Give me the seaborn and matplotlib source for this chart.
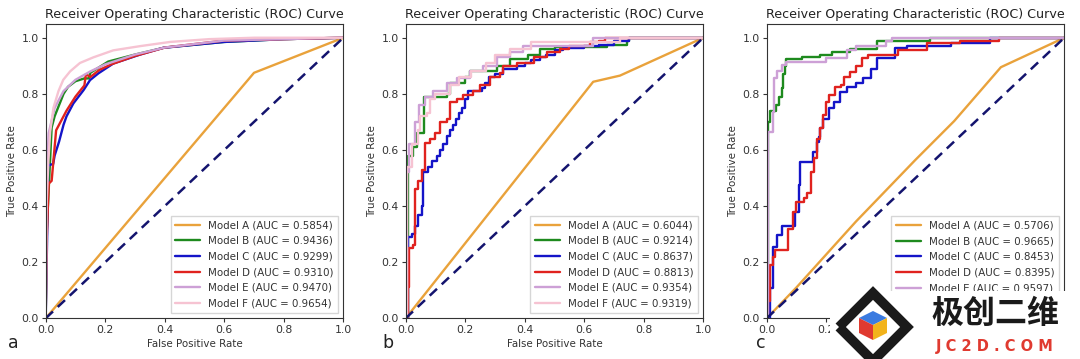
import matplotlib
matplotlib.use("Agg")
import matplotlib.pyplot as plt
import seaborn as sns
import numpy as np
from matplotlib.patches import Rectangle, Polygon

sns.set_style("ticks")
plt.rcParams['font.family'] = ['DejaVu Sans', 'Noto Sans CJK SC']

models = ["Model A", "Model B", "Model C", "Model D", "Model E", "Model F"]
colors = ["#E9A23B", "#1E8A1E", "#1414C8", "#E0221E", "#CDA0D6", "#F6C3D2"]
ticks = [0.0, 0.2, 0.4, 0.6, 0.8, 1.0]
tick_labels = ["0.0", "0.2", "0.4", "0.6", "0.8", "1.0"]

# ---- panel a ----
a_fpr = [
    [0, 0.70, 1],
    [0, 0.003, 0.02, 0.03, 0.045, 0.06, 0.075, 0.1, 0.13, 0.145, 0.15, 0.18, 0.21, 0.3, 0.4, 0.6, 0.8, 1],
    [0, 0.005, 0.008, 0.025, 0.03, 0.045, 0.06, 0.07, 0.093, 0.127, 0.149, 0.177, 0.227, 0.317, 0.395, 0.5, 0.6, 0.8, 1],
    [0, 0.003, 0.01, 0.02, 0.035, 0.05, 0.07, 0.1, 0.13, 0.135, 0.15, 0.18, 0.22, 0.3, 0.4, 0.6, 0.8, 1],
    [0, 0.003, 0.01, 0.03, 0.06, 0.1, 0.15, 0.2, 0.3, 0.4, 0.6, 1],
    [0, 0.003, 0.009, 0.015, 0.026, 0.043, 0.059, 0.082, 0.115, 0.16, 0.227, 0.317, 0.418, 0.55, 0.7, 1],
]
a_tpr = [
    [0, 0.875, 1],
    [0, 0.3, 0.68, 0.72, 0.76, 0.80, 0.825, 0.845, 0.855, 0.855, 0.875, 0.895, 0.915, 0.94, 0.965, 0.985, 0.995, 1],
    [0, 0.3, 0.545, 0.55, 0.58, 0.63, 0.69, 0.72, 0.766, 0.813, 0.849, 0.873, 0.908, 0.94, 0.964, 0.975, 0.985, 0.995, 1],
    [0, 0.27, 0.48, 0.49, 0.67, 0.70, 0.74, 0.79, 0.83, 0.87, 0.86, 0.885, 0.905, 0.935, 0.965, 0.99, 0.995, 1],
    [0, 0.5, 0.66, 0.75, 0.81, 0.85, 0.88, 0.905, 0.94, 0.965, 0.99, 1],
    [0, 0.4, 0.56, 0.665, 0.75, 0.81, 0.85, 0.88, 0.91, 0.93, 0.955, 0.97, 0.985, 0.995, 1.0, 1],
]
a_auc = ["0.5854", "0.9436", "0.9299", "0.9310", "0.9470", "0.9654"]

# ---- panel b ----
b_fpr = [
    [0, 0.63, 0.72, 1],
    [0, 0.009, 0.026, 0.037, 0.05, 0.06, 0.138, 0.15, 0.2, 0.216, 0.27, 0.306, 0.35, 0.41, 0.45, 0.5, 0.675, 0.742, 0.75, 1],
    [0, 0.007, 0.02, 0.03, 0.043, 0.054, 0.059, 0.075, 0.087, 0.104, 0.115, 0.127, 0.138, 0.15, 0.16, 0.17, 0.18, 0.19, 0.2,
     0.21, 0.255, 0.265, 0.28, 0.3, 0.328, 0.373, 0.40, 0.42, 0.45, 0.47, 0.5, 0.53, 0.6, 0.65, 0.7, 0.75, 1],
    [0, 0.007, 0.01, 0.025, 0.03, 0.04, 0.055, 0.065, 0.082, 0.099, 0.115, 0.138, 0.149, 0.171, 0.194, 0.227, 0.25, 0.283,
     0.317, 0.328, 0.373, 0.43, 0.474, 0.52, 0.55, 0.62, 0.65, 0.67, 1],
    [0, 0.003, 0.01, 0.03, 0.045, 0.065, 0.093, 0.138, 0.171, 0.216, 0.26, 0.306, 0.35, 0.395, 0.63, 1],
    [0, 0.005, 0.02, 0.04, 0.048, 0.07, 0.082, 0.1, 0.15, 0.18, 0.22, 0.27, 0.3, 0.35, 0.42, 0.72, 1],
]
b_tpr = [
    [0, 0.843, 0.865, 1],
    [0, 0.58, 0.61, 0.66, 0.66, 0.79, 0.80, 0.84, 0.86, 0.88, 0.88, 0.90, 0.925, 0.94, 0.96, 0.968, 0.975, 0.99, 1.0, 1],
    [0, 0.29, 0.30, 0.33, 0.368, 0.40, 0.52, 0.54, 0.56, 0.58, 0.60, 0.62, 0.65, 0.67, 0.69, 0.71, 0.73, 0.75, 0.78,
     0.81, 0.82, 0.84, 0.86, 0.87, 0.89, 0.90, 0.91, 0.92, 0.93, 0.94, 0.955, 0.965, 0.97, 0.975, 0.99, 1.0, 1],
    [0, 0.11, 0.25, 0.26, 0.46, 0.49, 0.53, 0.625, 0.64, 0.66, 0.70, 0.71, 0.77, 0.78, 0.795, 0.81, 0.83, 0.86,
     0.875, 0.90, 0.91, 0.93, 0.95, 0.96, 0.97, 0.985, 0.99, 1.0, 1],
    [0, 0.52, 0.62, 0.70, 0.76, 0.79, 0.81, 0.84, 0.855, 0.88, 0.90, 0.93, 0.95, 0.97, 1.0, 1],
    [0, 0.54, 0.62, 0.67, 0.72, 0.73, 0.78, 0.80, 0.83, 0.86, 0.88, 0.91, 0.94, 0.96, 0.985, 1.0, 1],
]
b_auc = ["0.6044", "0.9214", "0.8637", "0.8813", "0.9354", "0.9319"]

# ---- panel c ----
c_fpr = [
    [0, 0.1, 0.3, 0.5, 0.63, 0.787, 1],
    [0, 0.003, 0.006, 0.01, 0.03, 0.04, 0.05, 0.055, 0.06, 0.065, 0.12, 0.18, 0.22, 0.28, 0.37, 0.55, 1],
    [0, 0.01, 0.022, 0.034, 0.051, 0.096, 0.107, 0.112, 0.157, 0.169, 0.175, 0.18, 0.19, 0.21, 0.225, 0.247, 0.27,
     0.3, 0.325, 0.35, 0.37, 0.43, 0.47, 0.62, 0.75, 1],
    [0, 0.006, 0.011, 0.022, 0.028, 0.073, 0.09, 0.1, 0.124, 0.135, 0.15, 0.16, 0.17, 0.18, 0.19, 0.2, 0.21, 0.23,
     0.25, 0.26, 0.28, 0.3, 0.32, 0.34, 0.44, 0.54, 0.65, 0.78, 1],
    [0, 0.003, 0.006, 0.022, 0.025, 0.035, 0.05, 0.065, 0.2, 0.27, 0.3, 0.4, 0.42, 1],
]
c_tpr = [
    [0, 0.11, 0.345, 0.565, 0.703, 0.895, 1],
    [0, 0.65, 0.70, 0.74, 0.76, 0.79, 0.82, 0.87, 0.90, 0.925, 0.93, 0.94, 0.95, 0.96, 0.99, 1.0, 1],
    [0, 0.107, 0.255, 0.297, 0.33, 0.38, 0.475, 0.557, 0.594, 0.63, 0.647, 0.68, 0.71, 0.75, 0.77, 0.807, 0.826,
     0.837, 0.855, 0.89, 0.926, 0.963, 0.97, 0.98, 1.0, 1],
    [0, 0.06, 0.19, 0.22, 0.245, 0.32, 0.38, 0.415, 0.43, 0.445, 0.52, 0.57, 0.64, 0.677, 0.725, 0.772, 0.796, 0.826,
     0.83, 0.86, 0.878, 0.90, 0.926, 0.938, 0.956, 0.98, 0.99, 1.0, 1],
    [0, 0.487, 0.665, 0.736, 0.855, 0.88, 0.903, 0.915, 0.927, 0.955, 0.97, 0.99, 1.0, 1],
]
c_auc = ["0.5706", "0.9665", "0.8453", "0.8395", "0.9597"]

W, H = 1080, 359
fig = plt.figure(figsize=(W / 100, H / 100), dpi=100)

# (fpr, tpr, auc, letter, axes-left px, letter px, stepped, hidden-by-watermark)
panels = [
    (a_fpr, a_tpr, a_auc, "a", 45.7, 8, False, False),
    (b_fpr, b_tpr, b_auc, "b", 405.7, 382, True, False),
    (c_fpr, c_tpr, c_auc, "c", 766.7, 756, True, True),
]

for fprs, tprs, aucs, letter, left_px, let_px, steps, covered in panels:
    ax = fig.add_axes([left_px / W, 1 - 318.3 / H, 297.6 / W, 294.6 / H])
    for i, (fx, ty, auc) in enumerate(zip(fprs, tprs, aucs)):
        ds = "steps-post" if (steps and i > 0) else "default"
        sns.lineplot(x=fx, y=ty, ax=ax, color=colors[i], lw=1.7, estimator=None, sort=False,
                     drawstyle=ds, label=f"{models[i]} (AUC = {auc})", legend=False)
    sns.lineplot(x=[0, 1], y=[0, 1], ax=ax, color="#14146E", lw=1.8, estimator=None, sort=False,
                 legend=False, dashes=False)
    ax.lines[-1].set_linestyle((0, (4, 2.6)))
    ax.set_xlim(0, 1)
    ax.set_ylim(0, 1.05)
    ax.set_xticks(ticks)
    ax.set_yticks(ticks)
    ax.set_yticklabels(tick_labels)
    if covered:
        # the watermark hides the right part of this axis
        ax.set_xticklabels(tick_labels[:2] + [""] * 4)
    else:
        ax.set_xticklabels(tick_labels)
        ax.set_xlabel("False Positive Rate", fontsize=7.4, color="#333333", labelpad=3)
    ax.tick_params(labelsize=7.8, length=3, width=0.8, pad=2, colors="#333333")
    ax.set_ylabel("True Positive Rate", fontsize=7.4, color="#333333", labelpad=3)
    ax.set_title("Receiver Operating Characteristic (ROC) Curve", fontsize=9.1, color="#222222", pad=4)
    for s in ax.spines.values():
        s.set_linewidth(0.8)
        s.set_color("#333333")
    anchor_y = 15.4 / 294.6 if covered else 0.0
    ax.legend(loc="lower right", bbox_to_anchor=(1.0, anchor_y), fontsize=7.4, frameon=True,
              handlelength=2.4, labelspacing=0.55, borderpad=0.45, edgecolor="#cccccc",
              fancybox=False, labelcolor="#333333")
    fig.text(let_px / W, 1 - 343 / H, letter, fontsize=12.5, color="#222222",
             ha="left", va="center")

# watermark (as in the reference)
tr = fig.transFigure
def px(x, y):
    return (x / W, 1 - y / H)
fig.patches.append(Rectangle(px(830, 359), 250 / W, 68 / H, transform=tr, facecolor="white",
                             edgecolor="none", zorder=10))
outer = [px(839, 327), px(873, 293), px(907, 327), px(873, 361)]
fig.patches.append(Polygon(outer, closed=True, transform=tr, facecolor="none", edgecolor="#1a1a1a",
                           lw=7, zorder=11))
fig.patches.append(Polygon([px(873, 311), px(887, 318), px(873, 325), px(859, 318)], closed=True,
                           transform=tr, facecolor="#3B7BE0", edgecolor="none", zorder=12))
fig.patches.append(Polygon([px(859, 318), px(873, 325), px(873, 340), px(859, 333)], closed=True,
                           transform=tr, facecolor="#E03A30", edgecolor="none", zorder=12))
fig.patches.append(Polygon([px(873, 325), px(887, 318), px(887, 333), px(873, 340)], closed=True,
                           transform=tr, facecolor="#F2B31C", edgecolor="none", zorder=12))
fig.text(995 / W, 1 - 314 / H, "极创二维", fontsize=23, fontweight="bold", color="#1a1a1a",
         ha="center", va="center", family=["Noto Sans CJK SC", "DejaVu Sans"], zorder=13)
fig.text(995 / W, 1 - 346 / H, "J C 2 D . C O M", fontsize=10.5, fontweight="bold", color="#E03A30",
         ha="center", va="center", zorder=13)

fig.savefig("out.png", dpi=100)
